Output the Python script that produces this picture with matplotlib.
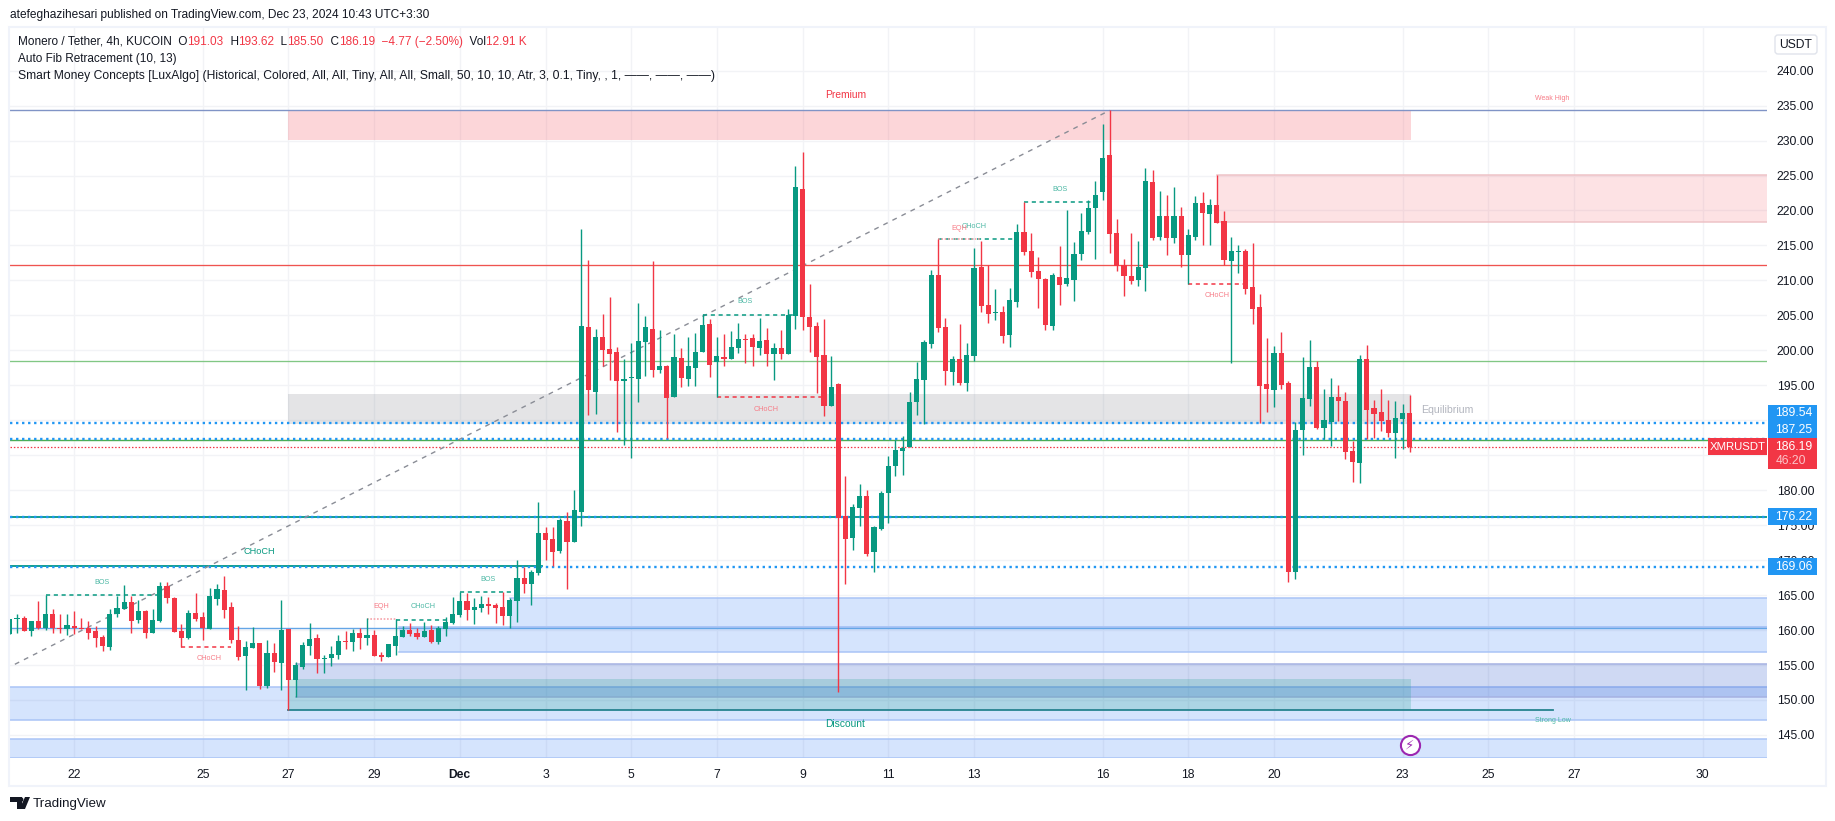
import numpy as np
import matplotlib
matplotlib.use("Agg")
import matplotlib.pyplot as plt
from matplotlib.patches import Rectangle, Polygon, Circle, FancyBboxPatch
from matplotlib.transforms import Affine2D

plt.rcParams['font.family'] = ['Liberation Sans', 'DejaVu Sans']

# ---------- OHLC values (4h bars) ----------
opens = [159.4,161.6,161.69,159.83,161.26,160.35,162.26,160.26,160.12,160.55,
 160.31,160.31,159.83,158.97,157.59,162.26,162.98,163.98,161.4,162.69,
 159.54,161.26,166.27,164.55,159.83,158.83,162.41,161.83,160.12,164.41,
 165.7,163.26,158.54,156.25,157.4,158.11,151.96,156.68,155.25,160.12,
 152.82,154.68,157.68,158.83,155.87,155.97,156.4,158.4,158.26,159.54,
 158.83,159.26,156.4,156.11,157.68,158.97,159.97,159.54,158.97,159.97,
 158.26,160.12,160.98,162.13,164.13,162.84,163.13,163.7,163.56,163.27,
 161.98,164.13,167.42,166.56,168.13,173.86,173.0,171.28,175.57,172.57,
 176.85,203.32,194.02,201.89,200.17,199.74,195.6,196.02,195.88,201.18,
 203.04,197.17,197.74,193.31,198.89,195.88,197.46,199.74,203.75,198.31,
 199.03,198.74,200.32,201.6,201.75,200.32,201.46,199.46,200.32,199.46,
 204.89,223.07,204.75,203.47,199.32,192.02,195.17,176.28,173.14,177.43,
 179.15,171.13,174.42,179.57,183.44,185.58,186.16,192.59,195.74,200.89,
 210.76,203.32,196.89,198.75,195.31,199.17,211.91,206.47,205.37,205.47,
 202.18,206.9,216.91,214.2,211.34,210.19,203.47,210.48,209.48,210.05,
 213.77,216.91,220.35,222.64,227.93,216.77,212.19,210.62,210.05,211.76,
 224.07,216.2,219.2,216.06,219.2,213.62,216.2,221.06,219.49,220.78,
 218.49,212.77,214.05,214.2,209.05,206.18,195.17,194.31,199.6,195.32,
 168.27,188.59,193.03,197.6,188.88,189.74,193.31,192.74,185.59,183.87,
 198.75,191.74,191.17,190.02,188.16,190.17,191.03]
highs = [161.55,162.36,161.98,161.26,164.12,164.98,162.98,162.26,162.36,162.69,
 161.79,161.26,160.55,159.26,162.98,164.89,166.41,164.89,164.27,162.84,
 162.98,166.84,166.84,164.7,160.83,162.84,165.27,162.55,165.98,166.56,
 167.7,163.98,160.55,158.4,160.4,158.11,158.54,158.11,164.27,160.21,
 155.4,158.26,160.97,159.4,156.4,157.68,159.26,159.83,160.12,160.26,
 161.69,159.97,156.83,157.97,161.55,160.55,160.97,160.26,161.12,160.69,
 160.55,161.83,164.7,165.51,165.27,164.56,164.84,164.7,163.84,165.42,
 164.56,170.0,169.0,168.56,178.29,174.72,174.72,176.0,176.86,180.0,
 217.34,212.91,203.04,205.18,207.61,200.46,198.74,201.03,206.76,204.89,
 212.76,202.89,197.88,202.32,200.32,201.89,202.46,205.18,204.47,201.89,
 202.32,202.75,203.89,202.32,202.32,204.61,203.18,201.03,202.89,205.9,
 226.36,228.36,209.47,204.04,204.47,199.17,195.3,182.0,178.0,180.86,
 180.0,174.85,179.86,184.87,187.16,187.73,194.02,198.32,201.46,211.48,
 215.87,204.61,199.17,203.75,201.03,214.63,215.58,212.15,208.76,206.33,
 208.9,218.06,221.21,216.77,213.34,210.33,211.05,214.91,220.06,215.48,
 219.63,221.49,224.21,232.37,234.32,218.77,213.05,216.77,215.63,226.07,
 225.79,222.78,222.21,223.35,220.49,217.34,222.07,222.64,221.64,225.07,
 219.92,216.2,215.05,214.48,215.34,208.04,201.75,200.6,202.61,195.6,
 189.74,199.04,201.47,198.46,194.46,196.03,195.03,194.03,187.02,199.32,
 200.75,192.88,194.46,192.88,192.74,192.31,193.62]
lows = [159.4,159.59,159.83,159.11,160.21,159.97,159.59,159.59,159.35,159.4,
 160.21,158.69,157.54,156.97,157.11,161.83,162.98,159.54,160.97,158.83,
 159.54,161.12,163.84,159.69,157.59,158.69,161.26,158.54,160.12,163.55,
 161.69,158.11,155.68,151.39,157.4,151.53,151.68,153.96,151.39,148.62,
 150.39,154.39,156.4,153.82,153.82,154.82,155.82,157.26,156.97,157.26,
 157.83,156.25,155.54,156.11,156.4,158.97,159.11,158.69,158.97,158.11,
 157.97,159.11,160.84,161.84,161.41,160.84,162.55,162.27,160.98,160.69,
 160.27,161.12,165.27,163.56,167.85,170.0,169.14,171.0,165.85,172.57,
 174.86,190.73,190.87,197.74,195.74,188.3,186.44,184.58,192.59,196.31,
 196.17,196.74,187.44,193.31,194.74,194.88,194.88,199.74,196.17,193.26,
 197.74,198.74,199.6,198.17,197.74,199.31,197.74,195.74,198.74,199.46,
 203.04,202.89,199.75,193.88,190.59,192.02,151.16,166.55,171.42,174.85,
 170.56,168.27,174.28,175.28,182.0,182.15,186.16,190.73,189.45,200.32,
 202.61,195.03,195.03,195.03,194.17,198.41,205.47,203.9,204.32,201.03,
 200.46,206.18,213.62,210.48,206.04,202.89,202.89,206.47,209.19,207.04,
 212.91,216.63,213.05,221.49,213.91,211.34,207.76,209.47,209.19,208.47,
 215.77,215.77,213.62,215.34,211.91,209.47,215.77,215.05,215.05,218.2,
 212.19,198.17,211.05,208.04,203.75,189.59,191.16,191.88,194.45,166.84,
 167.27,185.02,192.03,188.73,187.3,186.3,189.88,184.44,181.15,181.01,
 187.3,187.45,188.45,187.59,184.59,185.87,185.5]
closes = [161.55,161.74,159.83,161.26,160.35,162.26,160.26,160.12,160.69,160.31,
 160.21,159.54,158.88,157.68,162.36,163.12,163.98,161.26,162.69,159.54,
 161.4,166.27,164.55,159.69,158.83,162.41,161.55,160.31,164.84,165.84,
 162.84,158.54,156.11,157.54,158.11,151.96,156.68,155.4,159.97,152.82,
 154.97,157.83,158.69,155.82,155.97,156.54,158.4,158.26,159.54,158.83,
 159.26,156.25,156.11,157.97,159.11,159.97,159.4,158.97,159.83,158.26,
 160.26,161.12,162.27,164.13,162.84,163.27,163.7,163.46,163.13,161.98,
 164.27,167.42,166.56,168.28,173.86,172.86,171.14,175.72,172.57,177.15,
 203.46,194.31,201.89,200.03,199.46,195.6,195.88,196.17,201.32,203.32,
 197.17,197.74,193.16,199.03,196.03,197.74,199.74,203.61,197.88,199.17,
 198.74,200.46,201.6,201.46,200.46,201.32,199.46,200.32,199.46,205.04,
 223.35,204.75,203.32,199.03,192.02,194.74,176.04,172.99,177.57,179.15,
 170.85,174.71,179.57,183.44,185.73,186.01,192.59,195.88,201.18,210.76,
 203.18,197.03,198.75,195.31,199.32,211.76,206.33,205.18,205.47,202.04,
 207.19,216.91,214.05,211.19,210.19,203.61,210.76,209.33,210.33,213.77,
 217.06,220.35,222.21,227.5,216.63,212.05,210.62,209.9,211.91,224.21,
 216.06,219.2,216.06,219.2,213.62,216.49,221.06,219.63,220.78,218.2,
 212.91,214.2,214.15,208.76,205.9,194.88,194.45,199.6,195.03,168.27,
 188.59,193.17,197.6,188.88,190.02,193.31,192.74,185.44,184.01,198.75,
 191.45,190.88,189.88,188.16,190.31,191.02,186.19]
first_bar = 1            # bar number of the first candle
bars_per_day = 6
nov27_bar = 40

# ---------- axis labels ----------
day_offsets = [-5, -2, 0, 2, 4, 6, 8, 10, 12, 14, 16, 19, 21, 23, 26, 28, 30, 33]
day_labels = ['22', '25', '27', '29', 'Dec', '3', '5', '7', '9', '11', '13', '16', '18', '20', '23', '25', '27', '30']
price_ticks = list(range(145, 245, 5))

# ---------- levels ----------
weak_high = 234.32
fib_red = 212.15
fib_green = 198.41
dotted_levels = [189.54, 187.25, 176.22, 169.06]
last_price = 186.19
strong_low = 148.62
solid_green = 187.2
solid_teal = 176.2
choch_level = 169.1
blue_mid = 160.36

# zones: (start bar, end bar or None, low, high)
premium = (40, 197.2, 230.08, 234.32)
equilibrium = (40, 197.2, 189.44, 193.74)
supply = (170, None, 218.4, 225.07)
discount = (40, 197.2, 148.62, 152.95)
demand_a = (55.5, None, 156.87, 160.4)
demand_b = (71, None, 160.4, 164.56)
demand_c = (41, None, 150.43, 155.2)
demand_d = (None, None, 147.15, 151.82)
demand_e = (None, None, 141.7, 144.47)

# structure: (start bar, end bar, level, label, label bar, label price)
structure_green = [(6, 22, 164.95, 'BOS', 13.9, 166.75),
                   (55, 62, 161.45, 'CHoCH', 58.8, 163.3),
                   (64, 72, 165.51, 'BOS', 68, 167.2),
                   (98, 111, 205.09, 'BOS', 104, 206.95),
                   (131, 142, 215.87, 'CHoCH', 136, 217.68),
                   (143, 153, 221.16, 'BOS', 148, 223.0)]
structure_red = [(25, 32, 157.59, 'CHoCH', 28.9, 155.87),
                 (100, 115, 193.26, 'CHoCH', 106.9, 191.54),
                 (166, 174, 209.43, 'CHoCH', 170, 207.8)]
eqh = [(51, 55, 161.55, 'EQH', 53, 163.3),
       (131, 137, 215.87, 'EQH', 134, 217.39)]
fib_from = (1.7, 155.1)
fib_to = (155, 234.32)

GREEN, RED, BLUE = '#089981', '#F23645', '#2196F3'
TXT = '#131722'
W, H = 1835, 821

fig = plt.figure(figsize=(W / 100, H / 100), dpi=100, facecolor='white')
ax = fig.add_axes([10 / W, (H - 758) / H, (1767 - 10) / W, (758 - 28) / H])
ax.set_xlim(1.02, 247.03)
ax.set_ylim(141.7, 246.1)
for s in ax.spines.values():
    s.set_visible(False)

px = Affine2D().scale(1, -1).translate(0, H)   # image pixel coordinates for page furniture
XL, XR = ax.get_xlim()


def ftext(x, y, s, **kw):
    """Page text placed at image pixel coordinates."""
    return fig.text(x / W, (H - y) / H, s, **kw)


# grid
ticks = [nov27_bar + d * bars_per_day for d in day_offsets]
ax.set_xticks(ticks, day_labels)
ax.yaxis.tick_right()
ax.set_yticks(price_ticks, [f'{p:.2f}' for p in price_ticks])
ax.grid(True, color='#f2f3f6', lw=1.0, zorder=0.5)
ax.set_axisbelow(True)
ax.tick_params(length=0, labelcolor=TXT, labelsize=8.7)
ax.tick_params(axis='x', pad=8)
ax.tick_params(axis='y', pad=7)
for lab, txt in zip(ax.get_xticklabels(), day_labels):
    if txt == 'Dec':
        lab.set_fontweight('bold')


def zone(z, color, alpha, edge=None, zo=1.0):
    x0 = XL if z[0] is None else z[0]
    x1 = XR if z[1] is None else z[1]
    ax.add_patch(Rectangle((x0, z[2]), x1 - x0, z[3] - z[2], facecolor=color, alpha=alpha,
                           edgecolor='none', zorder=zo))
    if edge:
        ax.plot([x0, x1], [z[3], z[3]], color=edge, lw=1.1, zorder=zo + .05)
        ax.plot([x0, x1], [z[2], z[2]], color=edge, lw=1.1, zorder=zo + .05)


zone(demand_d, '#3179f5', .2, '#a9c4f6')
zone(demand_e, '#3179f5', .2, '#a9c4f6')
zone(demand_a, '#3179f5', .2, '#a9c4f6')
zone(demand_b, '#3179f5', .2, '#a9c4f6')
zone(demand_c, '#0f41c3', .2, '#a6b2e2', 1.1)
zone(discount, GREEN, .2, None, 1.2)
zone(premium, RED, .2)
zone(supply, RED, .14, '#eec3c7')
zone(equilibrium, '#787b86', .2)

# horizontal levels
ax.plot([XL, XR], [weak_high] * 2, color='#8094c6', lw=1.0, zorder=2)
ax.plot([XL, XR], [fib_red] * 2, color='#ef5350', lw=0.95, zorder=2)
ax.plot([XL, XR], [fib_green] * 2, color='#81c784', lw=0.95, zorder=2)
ax.plot([XL, XR], [blue_mid] * 2, color='#64a5e6', lw=1.0, zorder=2)
ax.plot([XL, XR], [solid_green] * 2, color='#4caf50', lw=1.0, zorder=2)
ax.plot([XL, XR], [solid_teal] * 2, color='#009688', lw=1.3, zorder=2)
ax.plot([XL, 75.5], [choch_level] * 2, color='#009688', lw=1.3, zorder=2)
for lv in dotted_levels:
    ax.plot([XL, XR], [lv, lv], color=BLUE, lw=1.7, ls=(0, (1, 1.55)), zorder=2.1)
ax.plot([XL, XR - 8.4], [last_price] * 2, color=RED, lw=.9, ls=(0, (1.2, 1.5)), zorder=2.1)
ax.plot([40, 217], [strong_low] * 2, color='#26838f', lw=1.3, zorder=2.2)
ax.plot([fib_from[0], fib_to[0]], [fib_from[1], fib_to[1]], color='#8a8d96', lw=1.0,
        ls=(0, (3.5, 3.8)), zorder=2.2)

LBL = dict(ha='center', va='center', fontsize=5.2, zorder=6)
for x0, x1, lv, name, lx, ly in structure_green:
    ax.plot([x0, x1], [lv, lv], color=GREEN, lw=1.1, ls=(0, (2.7, 2.4)), zorder=2.3)
    ax.text(lx, ly, name, color='#4db8a5', **LBL)
for x0, x1, lv, name, lx, ly in structure_red:
    ax.plot([x0, x1], [lv, lv], color=RED, lw=1.1, ls=(0, (2.7, 2.4)), zorder=2.3)
    ax.text(lx, ly, name, color='#f77c87', **LBL)
for x0, x1, lv, name, lx, ly in eqh:
    ax.plot([x0, x1], [lv, lv], color='#f6a3aa', lw=1.2, ls=(0, (1, 1)), zorder=2.3)
    ax.text(lx, ly, name, color='#f77c87', **LBL)
ax.text(35.9, 171.2, 'CHoCH', color=GREEN, ha='center', va='center', fontsize=6.6, zorder=6)
ax.text(118, 236.5, 'Premium', color=RED, ha='center', va='center', fontsize=7.4, zorder=6)
ax.text(118, 146.5, 'Discount', color=GREEN, ha='center', va='center', fontsize=7.4, zorder=6)
ax.text(217, 236.05, 'Weak High', color='#f77c87', ha='center', va='center', fontsize=5.0, zorder=6)
ax.text(217, 147.0, 'Strong Low', color='#4db8a5', ha='center', va='center', fontsize=5.0, zorder=6)
ax.text(202.2, 191.45, 'Equilibrium', color='#b2b5be', ha='center', va='center', fontsize=7.6, zorder=6)

# candles
o, h, l, c = map(np.array, (opens, highs, lows, closes))
xs = first_bar + np.arange(len(o))
cols = np.where(c >= o, GREEN, RED)
ax.vlines(xs, l, h, colors=cols, lw=1.0, zorder=3, clip_on=True)
ax.bar(xs, np.maximum(np.abs(c - o), 0.14), bottom=np.minimum(o, c), width=0.72,
       color=cols, linewidth=0, zorder=3.1)

# dividend / event marker
ax.scatter([197], [143.5], s=190, facecolor='white', edgecolor='#9c27b0', lw=1.5, zorder=7)
ax.text(197, 143.5, '\u26a1', color='#9c27b0', ha='center', va='center', fontsize=9.5,
        family='DejaVu Sans', zorder=8)

fig.canvas.draw()

# frame
fig.add_artist(Rectangle((9, 27), 1817, 759, transform=px, fill=False, edgecolor='#f0f3fa', lw=1.5))


def yimg(price):
    return H - ax.transData.transform((XL, price))[1]


def tag(price, text, off=0.0, color=BLUE):
    yc = yimg(price) + off
    fig.add_artist(Rectangle((1768, yc - 8.5), 49, 17, transform=px, facecolor=color, edgecolor='none', zorder=4))
    ftext(1794, yc, text, color='white', ha='center', va='center', fontsize=8.7, zorder=5)


tag(dotted_levels[0], f'{dotted_levels[0]:.2f}', -10)
tag(dotted_levels[1], f'{dotted_levels[1]:.2f}', -9.5)
tag(dotted_levels[2], f'{dotted_levels[2]:.2f}')
tag(dotted_levels[3], f'{dotted_levels[3]:.2f}')
yr = yimg(last_price)
fig.add_artist(Rectangle((1768, yr - 8.5), 49, 31, transform=px, facecolor=RED, edgecolor='none', zorder=4))
ftext(1794, yr, f'{last_price:.2f}', color='white', ha='center', va='center', fontsize=8.7, zorder=5)
ftext(1791, yr + 14, '46:20', color='#fbc3c8', ha='center', va='center', fontsize=8.7, zorder=5)
fig.add_artist(Rectangle((1708, yr - 8.5), 59, 17, transform=px, facecolor=RED, edgecolor='none', zorder=4))
ftext(1737.5, yr, 'XMRUSDT', color='white', ha='center', va='center', fontsize=8.2, zorder=5)

# USDT button
fig.add_artist(FancyBboxPatch((1775, 35), 42, 19, boxstyle='round,pad=0,rounding_size=3', transform=px,
                              facecolor='white', edgecolor='#e0e3eb', lw=1, zorder=4))
ftext(1796, 45, 'USDT', color=TXT, ha='center', va='center', fontsize=8.7, zorder=5)

# header
FS = 8.45
ftext(10, 15, 'atefeghazihesari published on TradingView.com, Dec 23, 2024 10:43 UTC+3:30',
      color=TXT, fontsize=8.55, va='center')
ftext(18, 59, 'Auto Fib Retracement (10, 13)', color=TXT, fontsize=FS, va='center', zorder=6)
ftext(18, 76, 'Smart Money Concepts [LuxAlgo] (Historical, Colored, All, All, Tiny, All, All, Small, 50, 10, 10, Atr, 3, 0.1, Tiny, , 1, \u2014\u2014, \u2014\u2014, \u2014\u2014)',
      color=TXT, fontsize=8.7, va='center', zorder=6)
segments = [('Monero / Tether, 4h, KUCOIN  O', TXT), ('191.03', RED), ('  H', TXT), ('193.62', RED),
            ('  L', TXT), ('185.50', RED), ('  C', TXT), ('186.19', RED),
            ('  \u22124.77 (\u22122.50%)', RED), ('  Vol', TXT), ('12.91 K', RED)]
xpos = 18
rend = fig.canvas.get_renderer()
for s, col in segments:
    t = ftext(xpos, 42, s.replace(' ', '\u00a0'), color=col, fontsize=FS, va='center', zorder=6)
    xpos += t.get_window_extent(rend).width

# logo
LOGO = '#131722'
fig.add_artist(Polygon([(10, 797), (22, 797), (22, 809), (17, 809), (17, 802), (10, 802)], transform=px,
                       facecolor=LOGO, edgecolor='none'))
fig.add_artist(Circle((21, 799.6), 2.4, transform=px, facecolor=LOGO, edgecolor='none'))
fig.add_artist(Polygon([(25, 797), (30, 797), (25, 809), (19.5, 809)], transform=px, facecolor=LOGO, edgecolor='none'))
ftext(33, 804, 'TradingView', color=TXT, fontsize=9.6, va='center')

fig.savefig('out.png', dpi=100, facecolor='white')
